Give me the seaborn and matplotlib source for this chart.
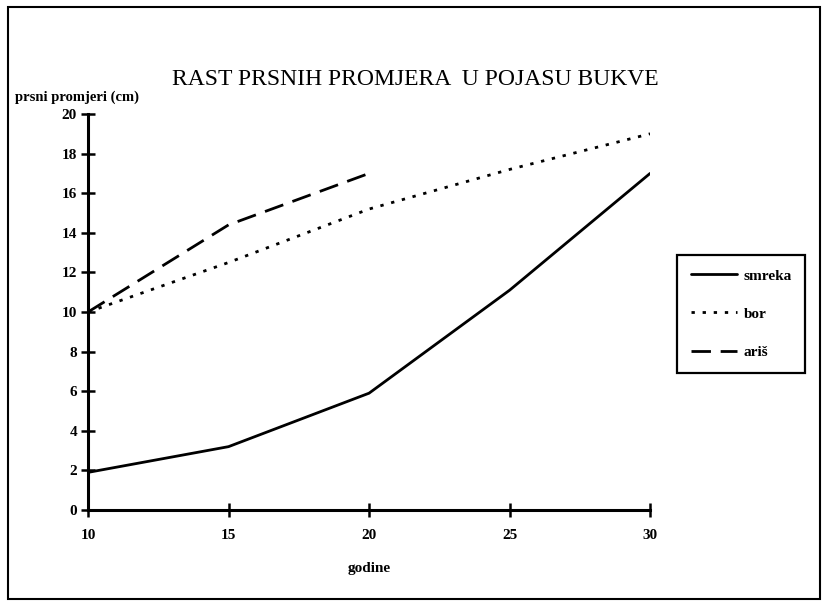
import pandas as pd
import matplotlib
matplotlib.use('Agg')
import matplotlib.pyplot as plt
import seaborn as sns
from matplotlib.patches import Rectangle

# podaci
godine = [10, 15, 20, 25, 30]
smreka = [1.9, 3.2, 5.9, 11.1, 17.0]
bor = [10.0, 12.5, 15.2, 17.2, 19.0]
aris_godine = [10, 15, 20]
aris = [10.0, 14.4, 17.0]

df = pd.concat([
    pd.DataFrame({'godine': godine, 'promjer': smreka, 'vrsta': 'smreka'}),
    pd.DataFrame({'godine': godine, 'promjer': bor, 'vrsta': 'bor'}),
    pd.DataFrame({'godine': aris_godine, 'promjer': aris, 'vrsta': 'ariš'}),
])

sns.set_style('white')
plt.rcParams['font.family'] = ['Liberation Serif', 'DejaVu Serif']

fig = plt.figure(figsize=(8.25, 6.06), dpi=100)
ax = fig.add_axes([0.1067, 0.1584, 0.6813, 0.6535])

sns.lineplot(data=df, x='godine', y='promjer', style='vrsta',
             dashes={'smreka': '', 'bor': (1.2, 2.8), 'ariš': (7, 3.5)},
             color='black', linewidth=2, ax=ax, legend=False)

ax.set_xlim(10, 30)
ax.set_ylim(0, 20)
ax.set_xticks([10, 15, 20, 25, 30])
ax.set_yticks(range(0, 21, 2))
for s in ['top', 'right']:
    ax.spines[s].set_visible(False)
for s in ['left', 'bottom']:
    ax.spines[s].set_linewidth(2.2)
    ax.spines[s].set_color('black')
ax.tick_params(axis='both', direction='inout', length=10, width=1.8,
               colors='black', labelsize=11, bottom=True, left=True)
ax.tick_params(axis='y', pad=3)
ax.tick_params(axis='x', pad=9)
for lab in ax.get_xticklabels() + ax.get_yticklabels():
    lab.set_fontweight('bold')
ax.set_xlabel('godine', fontsize=11, fontweight='bold', labelpad=14, color='black')
ax.set_ylabel('')
ax.grid(False)

fig.text(0.503, 0.868, 'RAST PRSNIH PROMJERA  U POJASU BUKVE',
         ha='center', va='center', fontsize=17, color='black')
fig.text(0.018, 0.840, 'prsni promjeri (cm)', ha='left', va='center',
         fontsize=10.5, fontweight='bold', color='black')

# legenda
leg = ax.legend(handles=ax.get_lines()[:3], labels=['smreka', 'bor', 'ariš'],
                loc='upper left', bbox_to_anchor=(0.8206, 0.5790),
                bbox_transform=fig.transFigure, borderaxespad=0,
                frameon=True, fancybox=False, framealpha=1,
                edgecolor='black', fontsize=11, handlelength=3.0,
                labelspacing=1.6, borderpad=0.9, handletextpad=0.45)
leg.get_frame().set_linewidth(1.6)
for t in leg.get_texts():
    t.set_fontweight('bold')
    t.set_color('black')

# okvir slike
fig.patches.append(Rectangle((0.010, 0.012), 0.984, 0.976, transform=fig.transFigure,
                             fill=False, edgecolor='black', linewidth=1.5))

plt.savefig('out.png', dpi=100)
